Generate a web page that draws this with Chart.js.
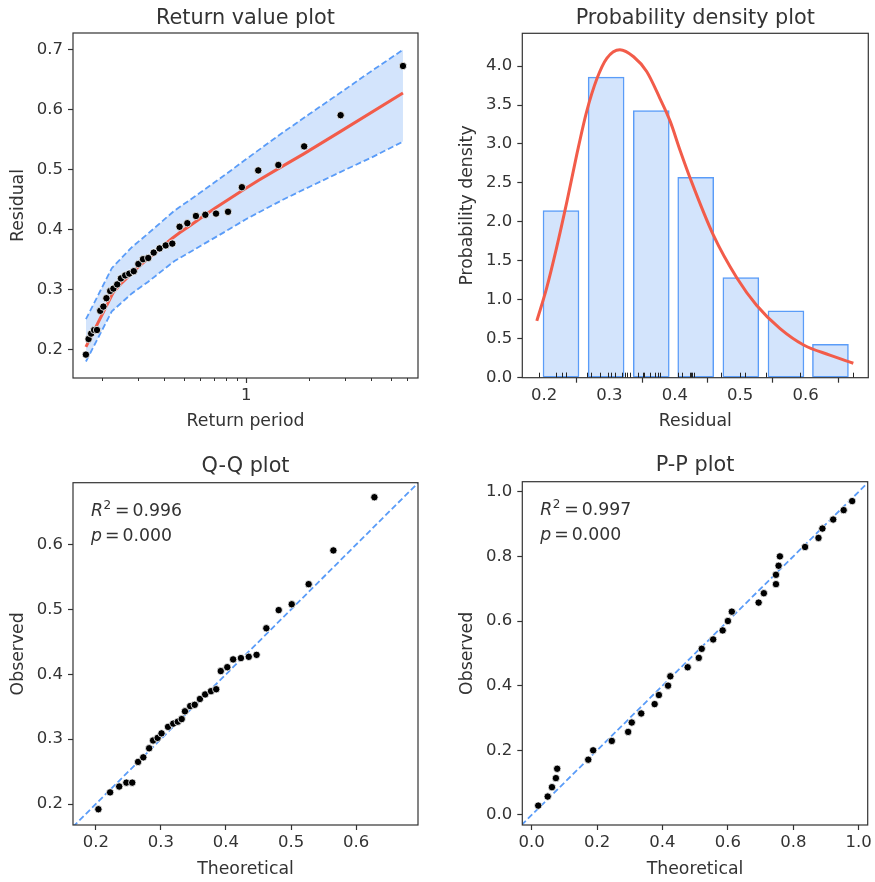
<!DOCTYPE html>
<html><head><meta charset="utf-8">
<script src="https://cdn.jsdelivr.net/npm/chart.js@4.4.1/dist/chart.umd.min.js"></script>
<style>
html,body{margin:0;padding:0;background:#fff;}
#wrap{position:relative;width:875px;height:882px;overflow:hidden;}
canvas{position:absolute;display:block;}
</style></head><body>
<div id="wrap">
<canvas id="c1" width="437" height="441" style="left:0;top:0"></canvas>
<canvas id="c2" width="438" height="441" style="left:437px;top:0"></canvas>
<canvas id="c3" width="437" height="441" style="left:0;top:441px"></canvas>
<canvas id="c4" width="438" height="441" style="left:437px;top:441px"></canvas>
</div>
<script>
// ---------------- data ----------------
const returnPeriod = [0.168,0.173,0.178,0.184,0.190,0.197,0.204,0.211,0.220,0.228,0.238,0.248,0.260,0.272,0.286,0.301,0.317,0.336,0.357,0.381,0.408,0.439,0.476,0.519,0.571,0.634,0.714,0.816,0.952,1.142,1.428,1.903,2.855,5.71];
const observed = [0.192,0.218,0.227,0.233,0.233,0.265,0.272,0.286,0.298,0.302,0.309,0.319,0.324,0.327,0.331,0.343,0.351,0.353,0.362,0.369,0.374,0.377,0.405,0.411,0.423,0.425,0.427,0.430,0.471,0.499,0.508,0.539,0.591,0.673];
const theoretical = [0.204,0.222,0.236,0.247,0.256,0.265,0.273,0.282,0.288,0.295,0.301,0.311,0.319,0.326,0.332,0.337,0.345,0.352,0.360,0.368,0.377,0.385,0.392,0.402,0.411,0.423,0.435,0.447,0.462,0.481,0.501,0.527,0.565,0.628];
const ppTheoretical = [0.020,0.049,0.062,0.074,0.078,0.173,0.188,0.245,0.295,0.306,0.335,0.376,0.389,0.417,0.424,0.477,0.511,0.520,0.555,0.584,0.600,0.612,0.694,0.710,0.747,0.747,0.755,0.759,0.836,0.877,0.889,0.922,0.954,0.980];
const ppObserved = [0.029,0.057,0.086,0.114,0.143,0.171,0.200,0.229,0.257,0.286,0.314,0.343,0.371,0.400,0.429,0.457,0.486,0.514,0.543,0.571,0.600,0.629,0.657,0.686,0.714,0.743,0.771,0.800,0.829,0.857,0.886,0.914,0.943,0.971];
// fitted return level curve and its confidence band
const rlPeriod = [0.168,0.228,0.238,0.248,0.260,0.272,0.286,0.301,0.317,0.336,0.357,0.381,0.408,0.439,0.476,0.519,0.571,0.634,0.714,0.816,0.952,1.142,1.428,1.903,2.855,5.71];
const rlLevel  = [0.205,0.296,0.303,0.310,0.317,0.324,0.331,0.338,0.345,0.352,0.360,0.368,0.377,0.386,0.395,0.404,0.414,0.425,0.437,0.450,0.465,0.482,0.502,0.527,0.564,0.628];
const ciPeriod = [0.168,0.224,0.28,0.336,0.45,0.6,0.8,1.0,1.5,2.0,3.0,4.0,5.71];
const ciUpper  = [0.251,0.336,0.371,0.394,0.432,0.462,0.493,0.518,0.562,0.592,0.634,0.664,0.700];
const ciLower  = [0.1805,0.264,0.294,0.3135,0.348,0.373,0.398,0.418,0.450,0.471,0.500,0.520,0.547];
// histogram
const binCenters = [0.226,0.295,0.364,0.432,0.501,0.570,0.638];
const binDensity = [2.144,3.859,3.430,2.573,1.286,0.858,0.429];
// fitted pdf
const pdfX = [0.189,0.204,0.219,0.235,0.250,0.265,0.281,0.296,0.316,0.337,0.357,0.377,0.393,0.408,0.424,0.459,0.495,0.525,0.561,0.597,0.637,0.673];
const pdfY = [0.73,1.15,1.66,2.26,2.86,3.41,3.84,4.10,4.21,4.12,3.93,3.59,3.29,2.92,2.55,1.83,1.28,0.93,0.63,0.42,0.29,0.185];
// tick labels
const rvMinorTicks = [0.2,0.3,0.4,0.5,0.6,0.7,0.8,0.9,2,3,4,5,6];
const rvYTicks = [0.2,0.3,0.4,0.5,0.6,0.7];
const pdfYTicks = [0,0.5,1,1.5,2,2.5,3,3.5,4];
const pdfXTicks = [0.2,0.3,0.4,0.5,0.6];
const qqTicks = [0.2,0.3,0.4,0.5,0.6];
const ppTicks = [0,0.2,0.4,0.6,0.8,1.0];

// ---------------- styling ----------------
const FONT = 'DejaVu Sans';
const TXT = '#333333';
const BLUE = '#5a9cf8';
const FILL = '#d3e4fc';
const RED = '#f25c4a';
Chart.defaults.font.family = FONT;
Chart.defaults.color = TXT;
Chart.defaults.animation = false;
Chart.defaults.plugins.legend.display = false;
Chart.defaults.plugins.tooltip.enabled = false;

const TICK = 16.5, LABEL = 17.3, TITLE = 20.8;
const DASH = [6, 3], DASHW = 1.8;

const decor = {
  id: 'decor',
  afterDatasetsDraw(chart, args, o) {
    const ctx = chart.ctx, a = chart.chartArea;
    ctx.save();
    ctx.strokeStyle = TXT;
    if (o.minorTicks) {
      const sx = chart.scales.x;
      ctx.lineWidth = 1;
      o.minorTicks.forEach(v => {
        const px = Math.round(sx.getPixelForValue(v)) + 0.5;
        ctx.beginPath(); ctx.moveTo(px, a.bottom); ctx.lineTo(px, a.bottom + 3); ctx.stroke();
      });
    }
    if (o.rug) {
      const sx = chart.scales.x;
      ctx.strokeStyle = '#222'; ctx.lineWidth = 1;
      o.rug.forEach(v => {
        const px = Math.round(sx.getPixelForValue(v)) + 0.5;
        ctx.beginPath(); ctx.moveTo(px, a.bottom); ctx.lineTo(px, a.bottom - 5); ctx.stroke();
      });
    }
    ctx.strokeStyle = TXT; ctx.lineWidth = 1.2;
    ctx.strokeRect(a.left, a.top, a.right - a.left, a.bottom - a.top);
    ctx.fillStyle = TXT;
    ctx.textAlign = 'center'; ctx.textBaseline = 'alphabetic';
    ctx.font = TITLE + 'px "' + FONT + '"';
    ctx.fillText(o.title, (a.left + a.right) / 2, a.top - o.titleGap);
    if (o.stats) {
      ctx.textAlign = 'left';
      const x0 = a.left + 18;
      let y = a.top + 33.5;
      ctx.font = 'italic ' + LABEL + 'px "' + FONT + '"';
      ctx.fillText('R', x0, y);
      const wR = ctx.measureText('R').width;
      ctx.font = '12px "' + FONT + '"';
      ctx.fillText('2', x0 + wR + 0.5, y - 7);
      ctx.font = LABEL + 'px "' + FONT + '"';
      ctx.fillText('=', x0 + 24, y);
      ctx.fillText(o.stats[0], x0 + 41.5, y);
      y += 25;
      ctx.font = 'italic ' + LABEL + 'px "' + FONT + '"';
      ctx.fillText('p', x0, y);
      ctx.font = LABEL + 'px "' + FONT + '"';
      ctx.fillText('=', x0 + 14, y);
      ctx.fillText(o.stats[1], x0 + 31.5, y);
    }
    ctx.restore();
  }
};

function axis(opts) {
  return {
    type: opts.type || 'linear',
    position: opts.position,
    min: opts.min, max: opts.max,
    afterBuildTicks: s => { s.ticks = opts.ticks.map(v => ({ value: v })); },
    afterFit: s => { if (opts.position === 'left') s.width = opts.size; else s.height = opts.size; },
    ticks: { font: { size: TICK }, color: TXT, padding: opts.position === 'left' ? 5 : 3, autoSkip: false, maxRotation: 0,
             callback: opts.fmt || (v => Number(v).toFixed(1)) },
    grid: { display: true, drawOnChartArea: false, drawTicks: true, tickLength: 5, tickColor: TXT, tickWidth: 1.2 },
    border: { display: false },
    title: { display: true, text: opts.title, color: TXT, font: { size: LABEL },
             padding: opts.position === 'left' ? { top: 8, bottom: 0 } : { top: 0, bottom: opts.titlePad } }
  };
}

function pts(xs, ys) { return xs.map((x, i) => ({ x: x, y: ys[i] })); }

const dotStyle = { pointRadius: 3.7, pointBackgroundColor: '#000', pointBorderColor: '#fff', pointBorderWidth: 0.8, pointHoverRadius: 3.7 };

// ---------- Return value plot ----------
new Chart(document.getElementById('c1'), {
  type: 'scatter',
  data: { datasets: [
    Object.assign({ type: 'scatter', data: pts(returnPeriod, observed) }, dotStyle),
    { type: 'line', data: pts(rlPeriod, rlLevel), borderColor: RED, borderWidth: 3, pointRadius: 0, tension: 0, fill: false },
    { type: 'line', data: pts(ciPeriod, ciUpper), borderColor: BLUE, borderWidth: DASHW, borderDash: DASH, pointRadius: 0, tension: 0, fill: '+1', backgroundColor: FILL },
    { type: 'line', data: pts(ciPeriod, ciLower), borderColor: BLUE, borderWidth: DASHW, borderDash: DASH, pointRadius: 0, tension: 0, fill: false }
  ]},
  options: {
    responsive: false,
    layout: { padding: { top: 33, right: 19, bottom: 0, left: 0 } },
    scales: {
      x: axis({ type: 'logarithmic', position: 'bottom', min: 0.1455, max: 6.75, ticks: [1], fmt: v => (v === 1 ? '1' : ''), size: 63, title: 'Return period', titlePad: 9 }),
      y: axis({ position: 'left', min: 0.153, max: 0.728, ticks: rvYTicks, size: 73, title: 'Residual' })
    },
    plugins: { filler: { drawTime: 'beforeDatasetsDraw', propagate: false },
               decor: { title: 'Return value plot', titleGap: 9.5, minorTicks: rvMinorTicks } }
  },
  plugins: [decor]
});

// ---------- Probability density plot ----------
new Chart(document.getElementById('c2'), {
  type: 'bar',
  data: { datasets: [
    { type: 'line', data: pts(pdfX, pdfY), borderColor: RED, borderWidth: 3, pointRadius: 0, cubicInterpolationMode: 'monotone', fill: false },
    { type: 'bar', data: pts(binCenters, binDensity), backgroundColor: FILL, borderColor: BLUE, borderWidth: 1.5, borderSkipped: false, barThickness: 36 }
  ]},
  options: {
    responsive: false,
    layout: { padding: { top: 33.3, right: 6.7, bottom: 0, left: 12 } },
    scales: {
      x: Object.assign(axis({ position: 'bottom', min: 0.1668, max: 0.6959, ticks: pdfXTicks, size: 63.3, title: 'Residual', titlePad: 9 }), { offset: false }),
      y: axis({ position: 'left', min: 0, max: 4.421, ticks: pdfYTicks, size: 73.3, title: 'Probability density' })
    },
    plugins: { decor: { title: 'Probability density plot', titleGap: 9.5, rug: observed } }
  },
  plugins: [decor]
});

// ---------- Q-Q plot ----------
const qqRange = [0.165, 0.6955];
new Chart(document.getElementById('c3'), {
  type: 'scatter',
  data: { datasets: [
    Object.assign({ type: 'scatter', data: pts(theoretical, observed) }, dotStyle),
    { type: 'line', data: pts(qqRange, qqRange), borderColor: BLUE, borderWidth: DASHW, borderDash: DASH, pointRadius: 0, fill: false }
  ]},
  options: {
    responsive: false,
    layout: { padding: { top: 41.7, right: 19, bottom: 0, left: 0 } },
    scales: {
      x: axis({ position: 'bottom', min: 0.165, max: 0.695, ticks: qqTicks, size: 57, title: 'Theoretical', titlePad: 2 }),
      y: axis({ position: 'left', min: 0.1677, max: 0.6954, ticks: qqTicks, size: 73, title: 'Observed' })
    },
    plugins: { decor: { title: 'Q-Q plot', titleGap: 11, stats: ['0.996', '0.000'] } }
  },
  plugins: [decor]
});

// ---------- P-P plot ----------
const ppRange = [-0.031, 1.031];
new Chart(document.getElementById('c4'), {
  type: 'scatter',
  data: { datasets: [
    Object.assign({ type: 'scatter', data: pts(ppTheoretical, ppObserved) }, dotStyle),
    { type: 'line', data: pts(ppRange, ppRange), borderColor: BLUE, borderWidth: DASHW, borderDash: DASH, pointRadius: 0, fill: false }
  ]},
  options: {
    responsive: false,
    layout: { padding: { top: 40.7, right: 6.7, bottom: 0, left: 12 } },
    scales: {
      x: axis({ position: 'bottom', min: -0.0287, max: 1.0275, ticks: ppTicks, size: 57, title: 'Theoretical', titlePad: 2 }),
      y: axis({ position: 'left', min: -0.031, max: 1.031, ticks: ppTicks, size: 73.3, title: 'Observed' })
    },
    plugins: { decor: { title: 'P-P plot', titleGap: 11, stats: ['0.997', '0.000'] } }
  },
  plugins: [decor]
});
</script>
</body></html>
